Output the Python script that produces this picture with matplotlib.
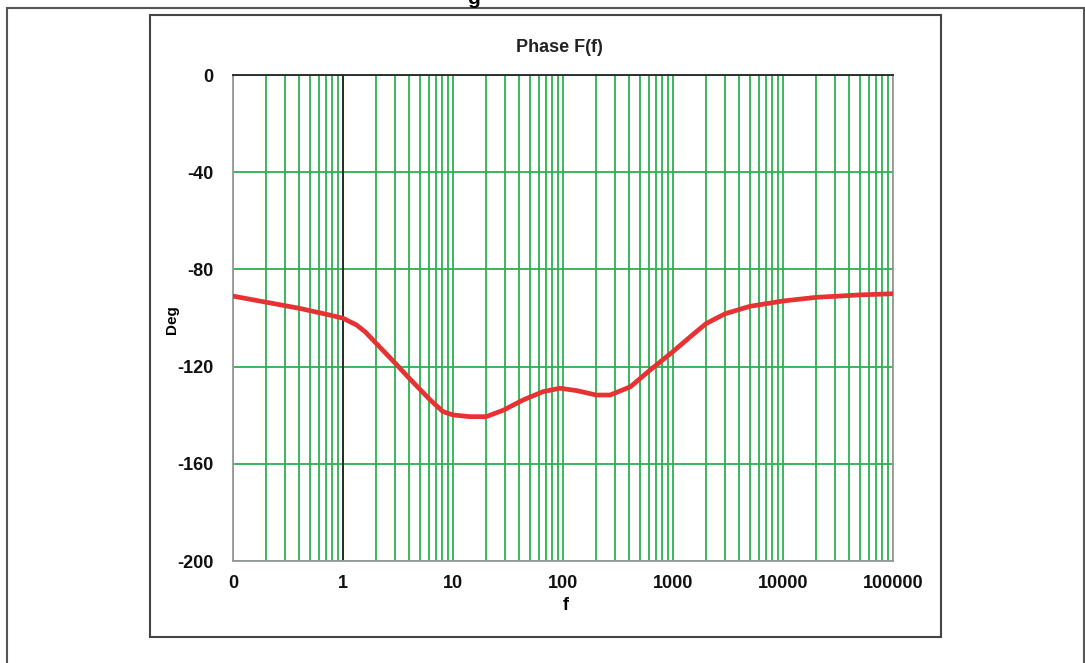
import matplotlib
matplotlib.use("Agg")
import matplotlib.pyplot as plt
from matplotlib.patches import Rectangle
from matplotlib.ticker import FixedLocator, FixedFormatter, LogLocator, NullFormatter

plt.rcParams['font.family'] = ['Liberation Sans', 'DejaVu Sans']

freq = [0.1, 0.2, 0.4, 0.76, 1, 1.33, 1.6, 2, 3, 4, 6.2, 8.1, 10, 14.3, 20, 28.8,
        43.5, 66, 94, 134, 200, 268, 410, 620, 1000, 1500, 2000, 2500, 3000, 5000,
        10000, 20000, 50000, 100000]
phase = [-91, -93.5, -96, -98.8, -100.1, -102.9, -105.8, -110.4, -118.7, -124.8, -133.7,
         -138.5, -139.9, -140.6, -140.6, -137.9, -133.7, -130.3, -128.9, -129.9, -131.7,
         -131.7, -128.3, -121.4, -113.8, -107, -102.3, -100, -98.2, -95.2, -93, -91.5,
         -90.5, -90]

x_ticks = [0.1, 1, 10, 100, 1000, 10000, 100000]
x_tick_labels = ["0", "1", "10", "100", "1000", "10000", "100000"]
y_ticks = [0, -40, -80, -120, -160, -200]
y_tick_labels = ["0", "-40", "-80", "-120", "-160", "-200"]

W, H = 1085, 663
fig = plt.figure(figsize=(W / 100, H / 100), dpi=100)
fig.patch.set_facecolor('white')

def fx(px):
    return px / W

def fy(py):
    return 1 - py / H

# outer frame
fig.add_artist(Rectangle((fx(7), fy(700)), fx(1084) - fx(7), fy(8) - fy(700),
                         transform=fig.transFigure, fill=False, edgecolor='#555555', lw=1.5))
# inner frame
fig.add_artist(Rectangle((fx(150), fy(637)), fx(941) - fx(150), fy(15) - fy(637),
                         transform=fig.transFigure, fill=False, edgecolor='#444444', lw=1.5))
# cut-off title above (partly outside the picture, as in the reference)
fig.text(fx(473), fy(4), "g", ha='center', va='baseline', fontsize=15, fontweight='bold')

ax = fig.add_axes([fx(233), fy(561), fx(893) - fx(233), fy(75) - fy(561)])
ax.set_xscale('log')
ax.set_xlim(0.1, 100000)
ax.set_ylim(-200, 0)

green = '#2bb14f'
ax.xaxis.set_major_locator(FixedLocator(x_ticks))
ax.xaxis.set_major_formatter(FixedFormatter(x_tick_labels))
ax.xaxis.set_minor_locator(LogLocator(base=10, subs=[2, 3, 4, 5, 6, 7, 8, 9], numticks=20))
ax.xaxis.set_minor_formatter(NullFormatter())
ax.yaxis.set_major_locator(FixedLocator(y_ticks))
ax.yaxis.set_major_formatter(FixedFormatter(y_tick_labels))

ax.grid(True, which='both', axis='x', color=green, lw=1.3)
ax.grid(True, which='major', axis='y', color=green, lw=1.3)
ax.axvline(1, color='#222222', lw=1.3, zorder=1.5)
ax.set_axisbelow(True)

ax.tick_params(axis='both', which='both', length=0)
ax.tick_params(axis='y', pad=14, labelsize=13)
ax.tick_params(axis='x', pad=10, labelsize=13)
for lab in ax.get_xticklabels() + ax.get_yticklabels():
    lab.set_fontweight('bold')
    lab.set_color('#111111')

for s in ['left', 'bottom', 'right']:
    ax.spines[s].set_color('#999999')
    ax.spines[s].set_linewidth(1.3)
ax.spines['top'].set_color('#222222')
ax.spines['top'].set_linewidth(1.3)

ax.plot(freq, phase, color='#e63232', lw=3.4, solid_capstyle='round', solid_joinstyle='round', zorder=3)

fig.text(fx(559), fy(47), "Phase F(f)", ha='center', va='center', fontsize=13, fontweight='bold', color='#222222')
fig.text(fx(172), fy(320), "Deg", ha='center', va='center', rotation=90, fontsize=11, fontweight='bold')
fig.text(fx(566), fy(606), "f", ha='center', va='center', fontsize=13, fontweight='bold')

fig.savefig("out.png", dpi=100, facecolor='white')
